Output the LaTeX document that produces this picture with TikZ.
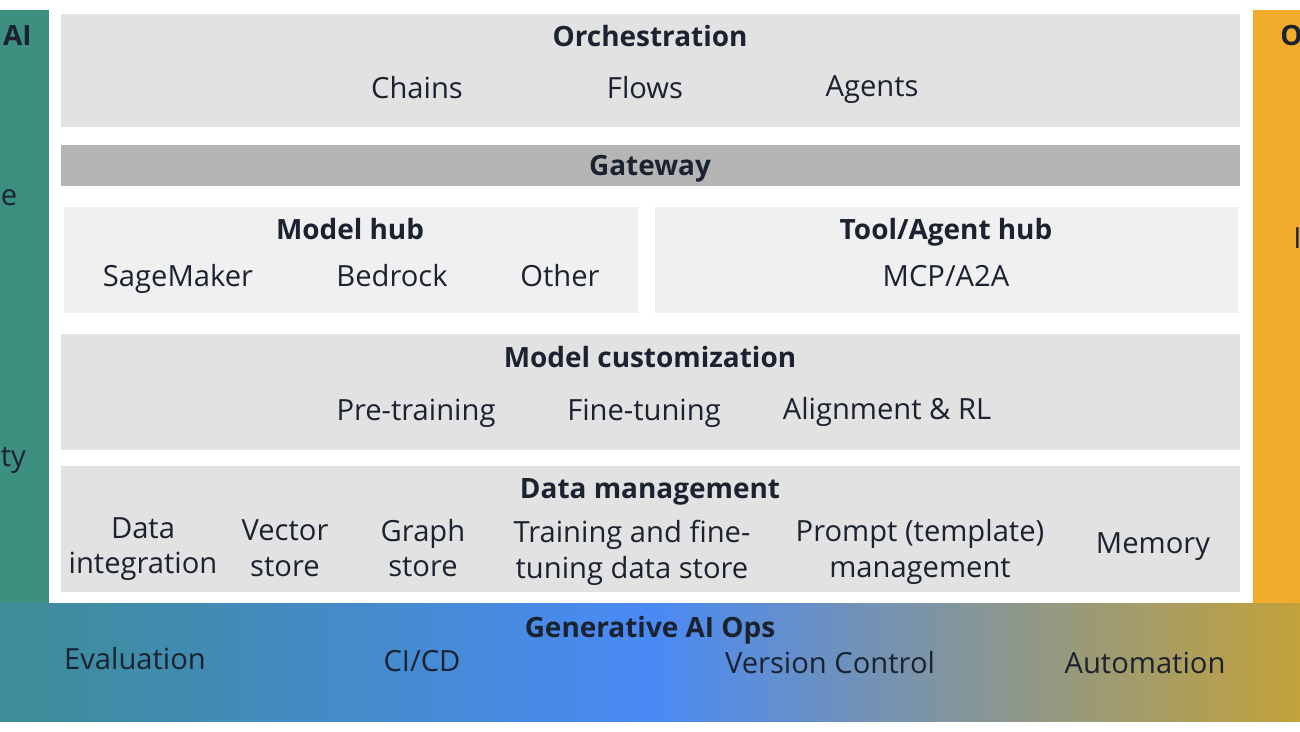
\documentclass[tikz,border=0pt]{standalone}
\usepackage{fontspec}
\setmainfont{Open Sans}
\usepackage{tikz}

\definecolor{ink}{HTML}{1B2230}
\definecolor{tealcol}{HTML}{3D8F80}
\definecolor{orangecol}{HTML}{F2AC2C}
\definecolor{panelgray}{HTML}{E2E2E2}
\definecolor{panellight}{HTML}{F0F0F0}
\definecolor{gatewaygray}{HTML}{B5B5B5}
\definecolor{opsleft}{HTML}{3D8C96}
\definecolor{opsmid}{HTML}{4A8AF5}
\definecolor{opsright}{HTML}{C2A23A}

\begin{document}
\begin{tikzpicture}[x=0.02cm, y=-0.02cm,
    every node/.style={text=ink, inner sep=0pt, align=center,
        font=\fontsize{16.6}{20.4}\selectfont},
    title/.style={font=\fontsize{15.9}{20.4}\selectfont\bfseries},
    item/.style={anchor=base}]

    \useasboundingbox (0,0) rectangle (1300,731);
    \clip (0,0) rectangle (1300,731);

    % Side columns
    \fill[tealcol] (0,10) rectangle (49,603);
    \fill[orangecol] (1253,10) rectangle (1300,603);
    \node[title, anchor=base east] (respai) at (32,45) {AI};
    \node[anchor=base west] (govern) at (0.5,205) {e};
    \node[anchor=base west] (secur) at (0.5,466) {ty};
    \node[title, anchor=base west] (observ) at (1280,45) {O};
    \node[anchor=base west] (monit) at (1293,248) {I};

    % Panels
    \fill[panelgray] (61,14) rectangle (1240,127);
    \fill[gatewaygray] (61,145) rectangle (1240,186);
    \fill[panellight] (64,207) rectangle (638,313);
    \fill[panellight] (655,207) rectangle (1238,313);
    \fill[panelgray] (61,334) rectangle (1240,450);
    \fill[panelgray] (61,466) rectangle (1240,592);

    % Generative AI Ops band
    \shade[left color=opsleft, right color=opsmid] (0,603) rectangle (650,721);
    \shade[left color=opsmid, right color=opsright] (650,603) rectangle (1300,721);

    % Orchestration
    \node[title, item] (orch) at (650,46) {Orchestration};
    \node[item] (chains) at (417,98) {Chains};
    \node[item] (flows) at (645,98) {Flows};
    \node[item] (agents) at (872,96) {Agents};

    % Gateway
    \node[title, item] (gateway) at (650,175) {Gateway};

    % Model hub
    \node[title, item] (modelhub) at (350,239) {Model hub};
    \node[item] (sagemaker) at (178,286) {SageMaker};
    \node[item] (bedrock) at (392,286) {Bedrock};
    \node[item] (other) at (560,286) {Other};

    % Tool/Agent hub
    \node[title, item] (toolhub) at (946,239) {Tool/Agent hub};
    \node[item] (mcp) at (946,286) {MCP/A2A};

    % Model customization
    \node[title, item] (custom) at (650,367) {Model customization};
    \node[item] (pretrain) at (416,420) {Pre-training};
    \node[item] (finetune) at (644,420) {Fine-tuning};
    \node[item] (align) at (887,419) {Alignment \& RL};

    % Data management
    \node[title, item] (datamgmt) at (650,498) {Data management};
    \node (dataint) at (143,549) {Data\\integration};
    \node (vector) at (285,548) {Vector\\store};
    \node (graph) at (423,548) {Graph\\store};
    \node (trainstore) at (632,553) {Training and fine-\\tuning data store};
    \node (prompt) at (920,552) {Prompt (template)\\management};
    \node[item] (memory) at (1153,553) {Memory};

    % Generative AI Ops
    \node[title, item] (genaiops) at (650,637) {Generative AI Ops};
    \node[item] (evaluation) at (135,669) {Evaluation};
    \node[item] (cicd) at (422,671) {CI/CD};
    \node[item] (version) at (830,673) {Version Control};
    \node[item] (automation) at (1145,673) {Automation};
\end{tikzpicture}
\end{document}
